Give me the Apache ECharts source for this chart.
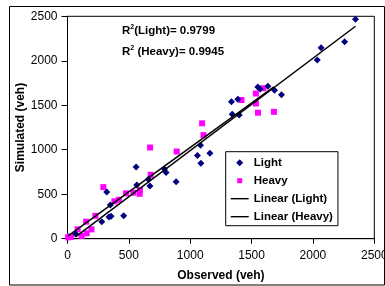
<!DOCTYPE html>
<html>
<head>
<meta charset="utf-8">
<script src="https://cdn.jsdelivr.net/npm/echarts@6/dist/echarts.min.js"></script>
<style>
html,body{margin:0;padding:0;background:#fff;}
#c{width:385px;height:286px;}
</style>
</head>
<body>
<div id="c"></div>
<script>
var lightData = [[65,55],[279,191],[320,525],[349,379],[338,244],[355,252],[458,259],[559,806],[565,604],[672,592],[659,668],[790,783],[803,744],[885,639],[1059,935],[1084,1050],[1087,848],[1160,960],[1336,1540],[1388,1567],[1342,1398],[1399,1391],[1551,1705],[1570,1683],[1633,1713],[1687,1668],[1744,1619],[2035,2009],[2066,2147],[2258,2215],[2347,2466]];
var heavyData = [[5,15],[20,25],[30,20],[83,105],[115,30],[152,191],[156,61],[195,105],[227,257],[292,580],[382,420],[418,437],[477,510],[537,517],[588,505],[591,547],[678,718],[673,1025],[890,980],[1097,1297],[1108,1164],[1418,1559],[1535,1632],[1596,1691],[1535,1520],[1552,1416],[1682,1426]];
var axisTicks = [0,500,1000,1500,2000,2500];
var seriesNames = ['Light','Heavy','Linear (Light)','Linear (Heavy)'];
var r2Light = '0.9799';
var r2Heavy = '0.9945';

function fitLine(d){
  var n=d.length,sx=0,sy=0,sxx=0,sxy=0,mn=Infinity,mx=-Infinity;
  d.forEach(function(p){sx+=p[0];sy+=p[1];sxx+=p[0]*p[0];sxy+=p[0]*p[1];mn=Math.min(mn,p[0]);mx=Math.max(mx,p[0]);});
  var b=(n*sxy-sx*sy)/(n*sxx-sx*sx), a=(sy-b*sx)/n;
  return [[mn,a+b*mn],[mx,a+b*mx]];
}

var chart = echarts.init(document.getElementById('c'));
var font = 'Liberation Sans, Arial, sans-serif';
var iconDiamond = 'path://M0,0L0,0M18,12L18,12M9,2.5L12.5,6L9,9.5L5.5,6Z';
var iconSquare = 'path://M0,0L0,0M18,12L18,12M6.5,3.5L11.5,3.5L11.5,8.5L6.5,8.5Z';
var iconLine = 'path://M0,0L0,0M18,12L18,12M0,5.3L18,5.3L18,6.7L0,6.7Z';
chart.setOption({
  animation:false,
  textStyle:{fontFamily:font},
  grid:{left:67.5,top:16.3,right:10.7,bottom:47.3,show:true,borderColor:'#000',borderWidth:1,backgroundColor:'transparent',outerBoundsMode:'none',containLabel:false},
  xAxis:{type:'value',min:axisTicks[0],max:axisTicks[axisTicks.length-1],interval:500,
    name:'Observed (veh)',nameLocation:'middle',nameGap:31,nameMoveOverlap:false,
    nameTextStyle:{fontWeight:'bold',fontSize:12,color:'#000',fontFamily:font},
    axisLine:{onZero:false,lineStyle:{color:'#000',width:1}},
    axisTick:{show:true,length:5,lineStyle:{color:'#000'}},
    axisLabel:{color:'#000',fontSize:12,margin:11,fontFamily:font,formatter:function(v){return String(v);}},
    splitLine:{show:false}},
  yAxis:{type:'value',min:axisTicks[0],max:axisTicks[axisTicks.length-1],interval:500,
    name:'Simulated (veh)',nameLocation:'middle',nameGap:41,nameMoveOverlap:false,
    nameTextStyle:{fontWeight:'bold',fontSize:12,color:'#000',fontFamily:font},
    axisLine:{onZero:false,lineStyle:{color:'#000',width:1}},
    axisTick:{show:true,length:6,lineStyle:{color:'#000'}},
    axisLabel:{color:'#000',fontSize:12,margin:10,fontFamily:font,formatter:function(v){return String(v);}},
    splitLine:{show:false}},
  legend:{orient:'vertical',left:225.7,top:151.7,padding:[5,5,3,5],itemGap:6,itemWidth:18,itemHeight:12,
    borderColor:'#000',borderWidth:1,backgroundColor:'#fff',
    textStyle:{fontWeight:'bold',fontSize:11.5,color:'#000',fontFamily:font},
    data:[{name:seriesNames[0],icon:iconDiamond},{name:seriesNames[1],icon:iconSquare},{name:seriesNames[2],icon:iconLine},{name:seriesNames[3],icon:iconLine}]},
  series:[
    {name:seriesNames[0],type:'scatter',data:lightData,symbol:'diamond',symbolSize:7,itemStyle:{color:'#000080',opacity:1},z:3},
    {name:seriesNames[1],type:'scatter',data:heavyData,symbol:'rect',symbolSize:6,itemStyle:{color:'#FF00FF',opacity:1},z:2},
    {name:seriesNames[2],type:'line',data:fitLine(lightData),symbol:'none',lineStyle:{color:'#000',width:1.5},itemStyle:{color:'#000'},z:4},
    {name:seriesNames[3],type:'line',data:fitLine(heavyData),symbol:'none',lineStyle:{color:'#000',width:1.5},itemStyle:{color:'#000'},z:4}
  ],
  graphic:[
    {type:'rect',shape:{x:9.5,y:6.5,width:375,height:278.5},style:{fill:'none',stroke:'#000',lineWidth:1},silent:true,z:-1},
    {type:'text',left:122,top:24,style:{rich:{b:{fontWeight:'bold',fontSize:11.5,fontFamily:font,fill:'#000'},s:{fontWeight:'bold',fontSize:7,fontFamily:font,fill:'#000',verticalAlign:'top',padding:[0,0,6,0]}},
      text:'{b|R}{s|2}{b|(Light)= '+r2Light+'}',fill:'#000'}},
    {type:'text',left:122,top:45,style:{rich:{b:{fontWeight:'bold',fontSize:11.5,fontFamily:font,fill:'#000'},s:{fontWeight:'bold',fontSize:7,fontFamily:font,fill:'#000',verticalAlign:'top',padding:[0,0,6,0]}},
      text:'{b|R}{s|2}{b| (Heavy)= '+r2Heavy+'}',fill:'#000'}}
  ]
});
</script>
</body>
</html>
